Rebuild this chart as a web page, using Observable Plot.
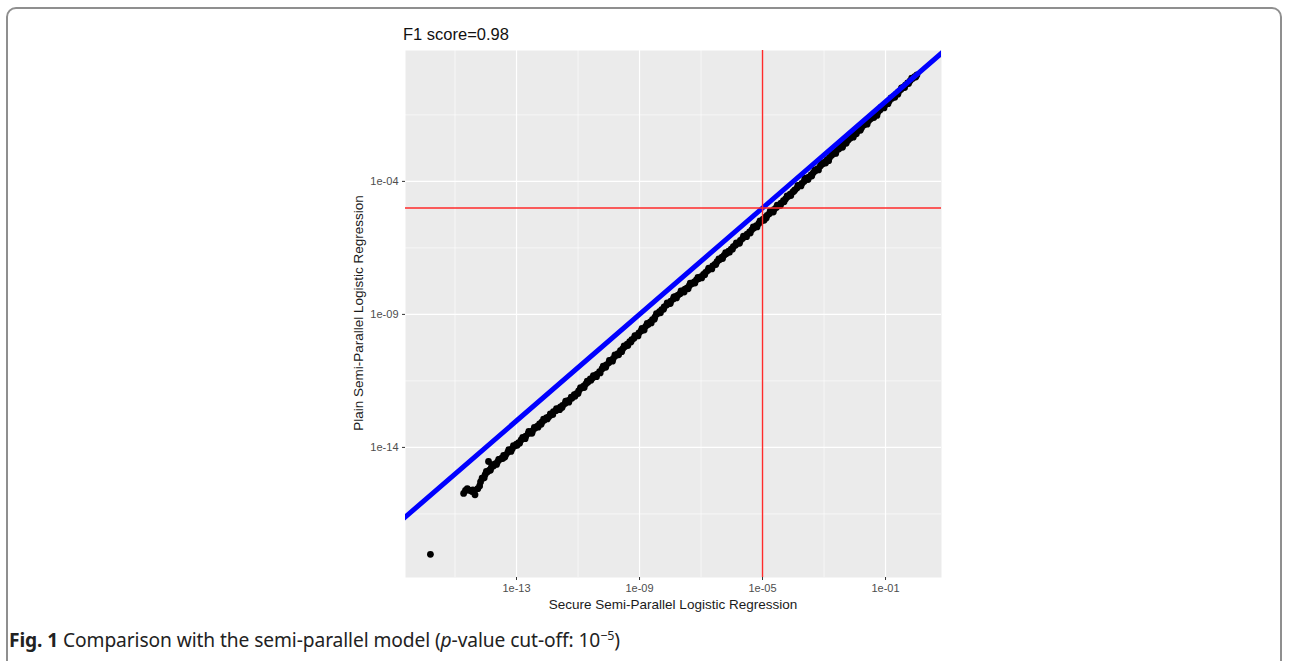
<!DOCTYPE html>
<html>
<head>
<meta charset="utf-8">
<script src="https://cdn.jsdelivr.net/npm/d3@7"></script>
<script src="https://cdn.jsdelivr.net/npm/@observablehq/plot@0.6"></script>
<style>
  html, body { margin: 0; padding: 0; background: #fff; width: 1290px; height: 661px; overflow: hidden; }
  #frame { position: absolute; left: 6px; top: 7px; width: 1276px; height: 720px; border: 2px solid #8f8f8f; border-radius: 10px; box-sizing: border-box; }
  #chart { position: absolute; left: 0; top: 0; }
  .t { position: absolute; font-family: "Liberation Sans", Arial, sans-serif; white-space: nowrap; }
  #title { left: 403px; top: 25px; font-size: 16.5px; color: #111; }
  #xtitle { left: 673px; top: 597px; transform: translateX(-50%); font-size: 13.5px; color: #1a1a1a; }
  #ytitle { left: 358px; top: 313px; transform: translate(-50%, -50%) rotate(-90deg); font-size: 13.5px; color: #1a1a1a; }
  #caption { left: 9px; top: 626px; font-family: "Noto Sans", "Open Sans", sans-serif; font-size: 19.2px; color: #222; letter-spacing: -0.1px; }
</style>
</head>
<body>
<div id="frame"></div>
<div id="chart"></div>
<div class="t" id="title">F1 score=0.98</div>
<div class="t" id="xtitle">Secure Semi-Parallel Logistic Regression</div>
<div class="t" id="ytitle">Plain Semi-Parallel Logistic Regression</div>
<div class="t" id="caption"><b>Fig. 1</b> Comparison with the semi-parallel model (<i>p</i>-value cut-off: 10<sup style="font-size:12.5px">−5</sup>)</div>
<script>
// log10 of secure (x) and plain (y) p-values (centre of the band)
const secureLog = [
  -15.80, -14.72, -14.66, -14.58, -14.50, -14.42, -14.35, -14.26, -14.17, -14.08, -14.02, -13.91,
  -13.95, -13.88, -13.82, -13.75, -13.70, -13.62, -13.55, -13.48, -13.42, -13.35, -13.28, -13.20,
  -13.14, -13.06, -13.00, -12.93, -12.85, -12.78, -12.70, -12.62, -12.55, -12.48, -12.40, -12.32,
  -12.25, -12.18, -12.10, -12.02, -11.95, -11.88, -11.80, -11.72, -11.65, -11.57, -11.50, -11.42,
  -11.35, -11.28, -11.20, -11.12, -11.05, -10.98, -10.90, -10.82, -10.75, -10.68, -10.60, -10.52,
  -10.45, -10.38, -10.30, -10.22, -10.15, -10.08, -10.00, -9.92, -9.85, -9.78, -9.70, -9.62,
  -9.55, -9.48, -9.40, -9.32, -9.25, -9.18, -9.10, -9.02, -8.95, -8.88, -8.80, -8.72,
  -8.65, -8.58, -8.50, -8.42, -8.35, -8.28, -8.20, -8.12, -8.05, -7.98, -7.90, -7.82,
  -7.75, -7.68, -7.60, -7.52, -7.45, -7.38, -7.30, -7.22, -7.15, -7.08, -7.00, -6.92,
  -6.85, -6.78, -6.70, -6.62, -6.55, -6.48, -6.40, -6.32, -6.25, -6.18, -6.10, -6.02,
  -5.95, -5.88, -5.80, -5.72, -5.65, -5.58, -5.50, -5.42, -5.35, -5.28, -5.20, -5.12,
  -5.05, -4.98, -4.92, -4.85, -4.78, -4.70, -4.62, -4.55, -4.48, -4.40, -4.32, -4.25,
  -4.18, -4.10, -4.02, -3.95, -3.88, -3.80, -3.72, -3.65, -3.58, -3.50, -3.42, -3.35,
  -3.28, -3.20, -3.12, -3.05, -2.98, -2.90, -2.82, -2.75, -2.68, -2.60, -2.52, -2.45,
  -2.38, -2.30, -2.22, -2.15, -2.08, -2.00, -1.92, -1.85, -1.78, -1.70, -1.62, -1.55,
  -1.48, -1.40, -1.32, -1.25, -1.18, -1.10, -1.02, -0.95, -0.88, -0.80, -0.72, -0.65,
  -0.58, -0.50, -0.42, -0.35, -0.28, -0.20, -0.12, -0.05, 0.02
];
const plainLog = [
  -18.02, -15.73, -15.62, -15.60, -15.62, -15.60, -15.78, -15.55, -15.30, -15.15, -15.02, -14.53,
  -14.92, -14.85, -14.75, -14.70, -14.62, -14.55, -14.45, -14.40, -14.30, -14.28, -14.18, -14.10,
  -14.05, -13.95, -13.88, -13.82, -13.72, -13.66, -13.58, -13.48, -13.45, -13.38, -13.28, -13.20,
  -13.12, -13.05, -12.98, -12.88, -12.85, -12.78, -12.66, -12.62, -12.55, -12.48, -12.42, -12.35,
  -12.25, -12.22, -12.15, -12.02, -11.98, -11.88, -11.78, -11.70, -11.62, -11.55, -11.42, -11.38,
  -11.30, -11.25, -11.15, -11.05, -10.98, -10.90, -10.82, -10.72, -10.65, -10.55, -10.48, -10.36,
  -10.30, -10.22, -10.12, -10.02, -9.95, -9.90, -9.80, -9.70, -9.62, -9.55, -9.45, -9.38,
  -9.28, -9.20, -9.10, -8.98, -8.90, -8.82, -8.72, -8.65, -8.58, -8.50, -8.42, -8.32,
  -8.28, -8.22, -8.12, -8.05, -8.00, -7.92, -7.85, -7.78, -7.70, -7.66, -7.58, -7.50,
  -7.42, -7.35, -7.28, -7.18, -7.12, -7.02, -6.95, -6.85, -6.78, -6.72, -6.62, -6.55,
  -6.45, -6.40, -6.32, -6.22, -6.15, -6.08, -5.98, -5.90, -5.82, -5.75, -5.66, -5.58,
  -5.50, -5.42, -5.35, -5.28, -5.22, -5.12, -5.05, -4.98, -4.90, -4.82, -4.72, -4.66,
  -4.58, -4.48, -4.40, -4.32, -4.25, -4.15, -4.08, -4.00, -3.92, -3.84, -3.76, -3.68,
  -3.60, -3.52, -3.42, -3.35, -3.28, -3.18, -3.10, -3.02, -2.95, -2.86, -2.78, -2.70,
  -2.62, -2.52, -2.45, -2.38, -2.30, -2.20, -2.12, -2.05, -1.98, -1.88, -1.80, -1.72,
  -1.65, -1.55, -1.48, -1.40, -1.32, -1.22, -1.14, -1.06, -0.98, -0.88, -0.80, -0.72,
  -0.64, -0.55, -0.46, -0.38, -0.30, -0.22, -0.13, -0.06, 0.00
];
// further points scattered along the band
const secureLogEdge = [
  -14.60, -14.45, -14.20, -14.12, -14.05, -13.98, -13.85, -13.78, -13.65, -13.58, -13.45, -13.38,
  -13.25, -13.18, -13.10, -12.98, -12.90, -12.80, -12.72, -12.60, -12.50, -12.42, -12.30, -12.20,
  -12.12, -12.00, -11.90, -11.82, -11.70, -11.60, -11.52, -11.40, -11.30, -11.22, -11.10, -11.00,
  -10.92, -10.80, -10.70, -10.58, -10.50, -10.40, -10.28, -10.18, -10.10, -9.98, -9.88, -9.80,
  -9.68, -9.58, -9.50, -9.38, -9.28, -9.15, -9.05, -8.92, -8.85, -8.75, -8.62, -8.52,
  -8.45, -8.32, -8.22, -8.10, -8.00, -7.88, -7.80, -7.65, -7.55, -7.42, -7.35, -7.20,
  -7.10, -6.98, -6.88, -6.75, -6.65, -6.52, -6.42, -6.30, -6.20, -6.08, -5.98, -5.85,
  -5.75, -5.62, -5.52, -5.40, -5.30, -5.18, -5.08, -4.95, -4.88, -4.75, -4.65, -4.52,
  -4.42, -4.30, -4.20, -4.08, -3.98, -3.85, -3.75, -3.62, -3.52, -3.40, -3.30, -3.18,
  -3.08, -2.95, -2.85, -2.72, -2.62, -2.50, -2.40, -2.28, -2.18, -2.05, -1.95, -1.82,
  -1.72, -1.60, -1.50, -1.38, -1.28, -1.15, -1.05, -0.92, -0.82, -0.70, -0.60, -0.48,
  -0.38, -0.25, -0.15, -0.02
];
const plainLogEdge = [
  -15.55, -15.66, -15.45, -15.16, -15.14, -14.90, -14.86, -14.66, -14.64, -14.45, -14.42, -14.36,
  -14.08, -14.15, -13.93, -13.92, -13.84, -13.62, -13.67, -13.40, -13.47, -13.25, -13.24, -13.13,
  -12.94, -12.93, -12.74, -12.76, -12.54, -12.58, -12.50, -12.26, -12.30, -12.11, -12.08, -11.97,
  -11.75, -11.75, -11.51, -11.48, -11.30, -11.34, -11.20, -10.95, -10.99, -10.73, -10.76, -10.52,
  -10.52, -10.40, -10.18, -10.17, -10.04, -9.80, -9.81, -9.53, -9.59, -9.34, -9.32, -9.18,
  -8.97, -8.94, -8.81, -8.57, -8.59, -8.34, -8.38, -8.12, -8.16, -8.04, -7.83, -7.82,
  -7.61, -7.63, -7.51, -7.26, -7.29, -7.12, -6.91, -6.90, -6.68, -6.67, -6.55, -6.31,
  -6.33, -6.06, -6.08, -5.94, -5.71, -5.71, -5.49, -5.46, -5.38, -5.12, -5.15, -4.89,
  -4.91, -4.77, -4.55, -4.53, -4.37, -4.15, -4.17, -3.88, -3.93, -3.80, -3.57, -3.57,
  -3.32, -3.31, -3.22, -2.94, -2.95, -2.70, -2.72, -2.57, -2.35, -2.34, -2.21, -2.08,
  -1.84, -1.85, -1.61, -1.60, -1.52, -1.22, -1.24, -1.08, -0.86, -0.84, -0.72, -0.49,
  -0.47, -0.32, -0.12, -0.08
];

const cutoff = [1e-5];
const identityLine = [1e-20, 1e2];

const xDomain = [10 ** -16.61, 10 ** 0.82];
const yDomain = [10 ** -18.89, 10 ** 0.92];

const xMajor = [1e-13, 1e-9, 1e-5, 1e-1];
const xMajorLabels = ["1e-13", "1e-09", "1e-05", "1e-01"];
const xMinor = [1e-15, 1e-11, 1e-7, 1e-3];
const yMajor = [1e-14, 1e-9, 1e-4];
const yMajorLabels = ["1e-14", "1e-09", "1e-04"];
const yMinor = [10 ** -16.5, 10 ** -11.5, 10 ** -6.5, 10 ** -1.5];

const points = secureLog.map((v, i) => ({ secure: 10 ** v, plain: 10 ** plainLog[i] }))
  .concat(secureLogEdge.map((v, i) => ({ secure: 10 ** v, plain: 10 ** plainLogEdge[i] })));
const diag = identityLine.map(d => ({ a: d, b: d }));
const xLab = new Map(xMajor.map((d, i) => [d, xMajorLabels[i]]));
const yLab = new Map(yMajor.map((d, i) => [d, yMajorLabels[i]]));

const chart = Plot.plot({
  width: 1290,
  height: 661,
  marginLeft: 405,
  marginRight: 349,
  marginTop: 50,
  marginBottom: 84,
  style: { background: "transparent", fontFamily: "Liberation Sans, Arial, sans-serif" },
  x: { type: "log", domain: xDomain },
  y: { type: "log", domain: yDomain },
  marks: [
    Plot.frame({ fill: "#EBEBEB", stroke: null }),
    Plot.gridX(xMinor, { stroke: "white", strokeOpacity: 1, strokeWidth: 0.6 }),
    Plot.gridY(yMinor, { stroke: "white", strokeOpacity: 1, strokeWidth: 0.6 }),
    Plot.gridX(xMajor, { stroke: "white", strokeOpacity: 1, strokeWidth: 1.2 }),
    Plot.gridY(yMajor, { stroke: "white", strokeOpacity: 1, strokeWidth: 1.2 }),
    Plot.axisX(xMajor, { tickFormat: d => xLab.get(d), tickSize: 3, tickPadding: 4, fontSize: 11, fill: "#4D4D4D", stroke: "#333", label: null }),
    Plot.axisY(yMajor, { tickFormat: d => yLab.get(d), tickSize: 3, tickPadding: 4, fontSize: 11, fill: "#4D4D4D", stroke: "#333", label: null }),
    Plot.dot(points, { x: "secure", y: "plain", r: 3.4, fill: "black", stroke: null }),
    Plot.line(diag, { x: "a", y: "b", stroke: "#0000FF", strokeWidth: 5, clip: true }),
    Plot.ruleX(cutoff, { stroke: "#FF2A2A", strokeWidth: 1.4 }),
    Plot.ruleY(cutoff, { stroke: "#FF2A2A", strokeWidth: 1.4 })
  ]
});
document.getElementById("chart").appendChild(chart);
</script>
</body>
</html>
